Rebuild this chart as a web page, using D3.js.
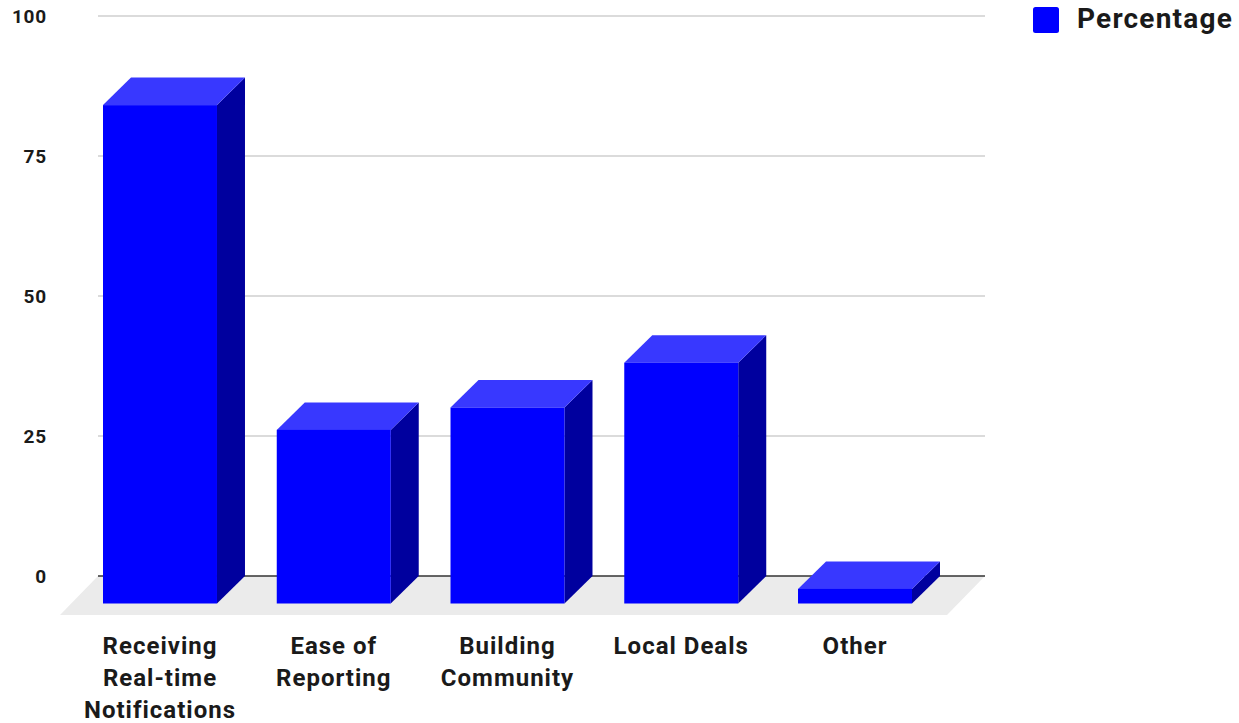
<!DOCTYPE html>
<html>
<head>
<meta charset="utf-8">
<script src="https://cdn.jsdelivr.net/npm/d3@7"></script>
<style>
  html, body { margin: 0; padding: 0; background: #fff; }
  svg { display: block; font-family: Roboto, "Noto Sans", sans-serif; }
</style>
</head>
<body>
<svg id="chart" width="1239" height="723"></svg>
<script>
// Survey results: share of respondents per app feature
const categories = [
  ["Receiving", "Real-time", "Notifications"],
  ["Ease of", "Reporting"],
  ["Building", "Community"],
  ["Local Deals"],
  ["Other"]
];
const percentages = [89, 31, 35, 43, 2.6];
const yTicks = [0, 25, 50, 75, 100];
const seriesName = "Percentage";

const svg = d3.select("#chart");

// Back wall of the plot and 3D depth offsets
const wallLeft = 98, wallRight = 985;
const barDX = 28, barDY = 27.5;      // bar depth
const floorDX = 38, floorDY = 39;    // floor depth

const keys = categories.map(c => c.join(" "));

const y = d3.scaleLinear().domain([0, 100]).range([576, 16]);
const x = d3.scaleBand().domain(keys).range([103, 912]).paddingInner(0.344).paddingOuter(0);

const colors = { front: "#0000ff", top: "#3838ff", side: "#00009e" };

// Floor
const y0 = y(0);
svg.append("path")
  .attr("d", `M${wallLeft},${y0} L${wallRight},${y0} L${wallRight - floorDX},${y0 + floorDY} L${wallLeft - floorDX},${y0 + floorDY} Z`)
  .attr("fill", "#ebebeb");

// Gridlines
svg.append("g").selectAll("line")
  .data(yTicks.filter(t => t !== 0))
  .join("line")
  .attr("x1", wallLeft).attr("x2", wallRight)
  .attr("y1", d => y(d)).attr("y2", d => y(d))
  .attr("stroke", "#cfcfcf").attr("stroke-width", 1.5);

// Zero baseline
svg.append("line")
  .attr("x1", wallLeft).attr("x2", wallRight)
  .attr("y1", y0).attr("y2", y0)
  .attr("stroke", "#333").attr("stroke-width", 1.6);

// Y axis labels
const yAxis = d3.axisLeft(y).tickValues(yTicks).tickSize(0).tickPadding(0);
const gy = svg.append("g").attr("transform", "translate(47,0)").call(yAxis);
gy.select(".domain").remove();
gy.selectAll("text")
  .attr("font-family", "Roboto, sans-serif")
  .attr("font-size", 19).attr("font-weight", "bold").attr("fill", "#1a1a1a")
  .attr("letter-spacing", 0.8);

// Bars: side, top and front faces
const bars = svg.append("g").selectAll("g")
  .data(keys.map((k, i) => ({ key: k, value: percentages[i] })))
  .join("g");

bars.each(function(d) {
  const g = d3.select(this);
  const xl = x(d.key), w = x.bandwidth();
  const yt = y(d.value) + barDY;   // front top
  const yb = y0 + barDY;           // front bottom
  g.append("path")
    .attr("d", `M${xl + w},${yt} L${xl + w + barDX},${yt - barDY} L${xl + w + barDX},${yb - barDY} L${xl + w},${yb} Z`)
    .attr("fill", colors.side);
  g.append("path")
    .attr("d", `M${xl},${yt} L${xl + barDX},${yt - barDY} L${xl + w + barDX},${yt - barDY} L${xl + w},${yt} Z`)
    .attr("fill", colors.top);
  g.append("rect")
    .attr("x", xl).attr("y", yt)
    .attr("width", w).attr("height", yb - yt)
    .attr("fill", colors.front);
});

// Category labels
const xAxis = d3.axisBottom(x).tickSize(0).tickFormat(() => "");
const gx = svg.append("g").attr("transform", `translate(0,${y0 + barDY})`).call(xAxis);
gx.select(".domain").remove();
gx.selectAll(".tick").each(function(k, i) {
  const t = d3.select(this).append("text")
    .attr("text-anchor", "middle")
    .attr("font-family", "Roboto, sans-serif")
    .attr("font-size", 24).attr("font-weight", "bold").attr("fill", "#1a1a1a")
    .attr("letter-spacing", 1);
  categories[i].forEach((line, j) => {
    t.append("tspan").attr("x", 0).attr("y", 50.5 + j * 31.8).text(line);
  });
});

// Legend
const lg = svg.append("g").attr("transform", "translate(1033,7)");
lg.append("rect").attr("width", 26).attr("height", 26).attr("rx", 2.5).attr("fill", colors.front);
lg.append("text").attr("x", 44).attr("y", 21)
  .attr("font-family", "Roboto, sans-serif")
  .attr("font-size", 28).attr("font-weight", "bold").attr("fill", "#1a1a1a")
  .attr("letter-spacing", 1.2)
  .text(seriesName);
</script>
</body>
</html>
